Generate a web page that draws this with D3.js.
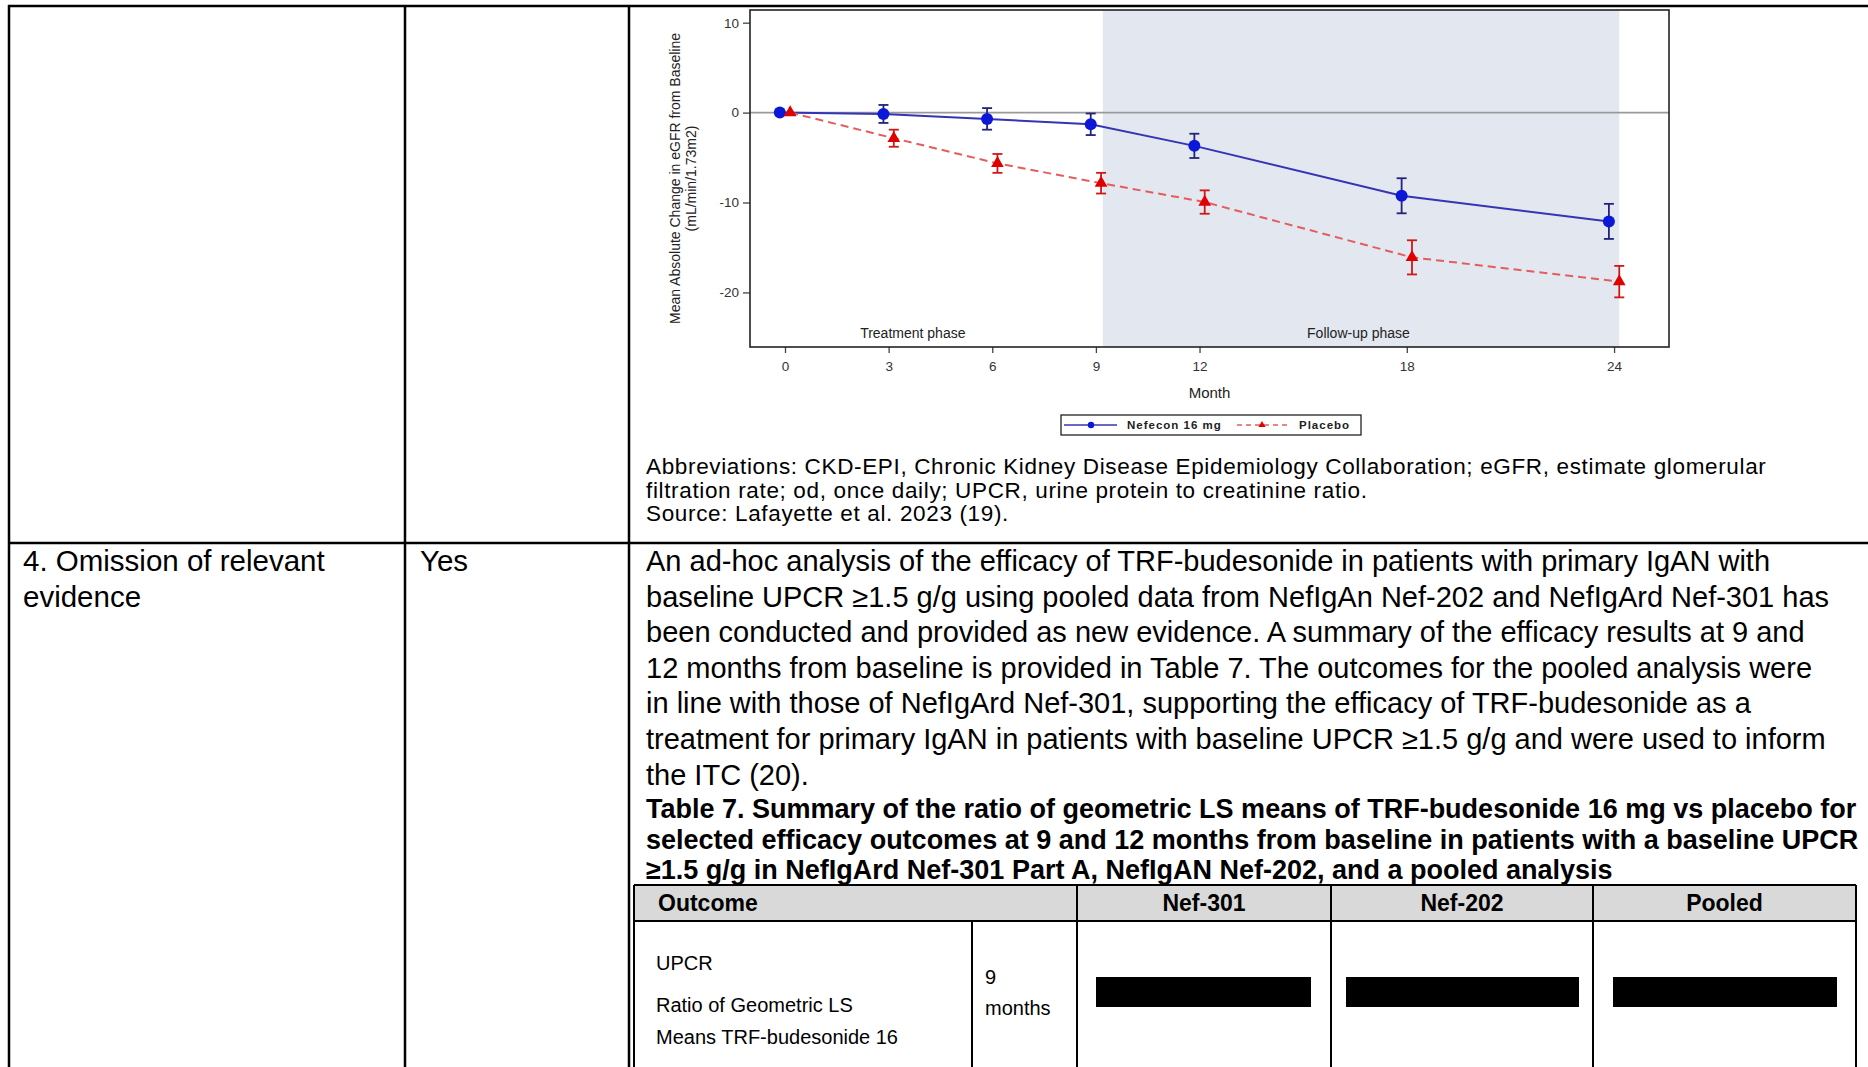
<!DOCTYPE html>
<html>
<head>
<meta charset="utf-8">
<script src="https://cdnjs.cloudflare.com/ajax/libs/d3/7.8.5/d3.min.js"></script>
<style>
  body { margin: 0; background: #fff; }
  svg { display: block; font-family: "Liberation Sans", Arial, sans-serif; }
</style>
</head>
<body>
<div id="page"></div>
<script>
// chart values
var months = [0, 3, 6, 9, 12, 18, 24];
var nefeconMean = [0, -0.15, -0.7, -1.3, -3.7, -9.25, -12.1];
var nefeconErr = [0, 1.0, 1.2, 1.2, 1.35, 1.95, 1.95];
var placeboMean = [0, -2.85, -5.65, -7.85, -9.95, -16.1, -18.8];
var placeboErr = [0, 0.95, 1.05, 1.15, 1.3, 1.9, 1.75];
var yTicks = [10, 0, -10, -20];
var followUpRange = [9.2, 24.15];
var seriesNames = ["Nefecon 16 mg", "Placebo"];

var bodyLines = [
  "An ad-hoc analysis of the efficacy of TRF-budesonide in patients with primary IgAN with",
  "baseline UPCR \u22651.5 g/g using pooled data from NefIgAn Nef-202 and NefIgArd Nef-301 has",
  "been conducted and provided as new evidence. A summary of the efficacy results at 9 and",
  "12 months from baseline is provided in Table 7. The outcomes for the pooled analysis were",
  "in line with those of NefIgArd Nef-301, supporting the efficacy of TRF-budesonide as a",
  "treatment for primary IgAN in patients with baseline UPCR \u22651.5 g/g and were used to inform",
  "the ITC (20)."
];
var captionLines = [
  "Table 7. Summary of the ratio of geometric LS means of TRF-budesonide 16 mg vs placebo for",
  "selected efficacy outcomes at 9 and 12 months from baseline in patients with a baseline UPCR",
  "\u22651.5 g/g in NefIgArd Nef-301 Part A, NefIgAN Nef-202, and a pooled analysis"
];
var noteLines = [
  "Abbreviations: CKD-EPI, Chronic Kidney Disease Epidemiology Collaboration; eGFR, estimate glomerular",
  "filtration rate; od, once daily; UPCR, urine protein to creatinine ratio.",
  "Source: Lafayette et al. 2023 (19)."
];
var tableHeads = ["Nef-301", "Nef-202", "Pooled"];

var W = 1868, H = 1067;

var svg = d3.select("#page").append("svg")
    .attr("width", W)
    .attr("height", H);

svg.append("rect").attr("width", W).attr("height", H).attr("fill", "#fff");

// ---------- the chart ----------
var frame = { left: 750, right: 1669, top: 10, bottom: 347 };

var x = d3.scaleLinear().domain([-1.013, 25.59]).range([frame.left, frame.right]);
var y = d3.scaleLinear().domain([-26.07, 11.41]).range([frame.bottom, frame.top]);

var chart = svg.append("g");

chart.append("rect")
    .attr("x", x(followUpRange[0]))
    .attr("y", frame.top)
    .attr("width", x(followUpRange[1]) - x(followUpRange[0]))
    .attr("height", frame.bottom - frame.top)
    .attr("fill", "#e3e7ef");

chart.append("line")
    .attr("x1", frame.left).attr("x2", frame.right)
    .attr("y1", y(0)).attr("y2", y(0))
    .attr("stroke", "#9a9a9a").attr("stroke-width", 1.6);

var xAxis = chart.append("g")
    .attr("transform", "translate(0," + frame.bottom + ")")
    .call(d3.axisBottom(x).tickValues(months).tickSize(6).tickPadding(8));
var yAxis = chart.append("g")
    .attr("transform", "translate(" + frame.left + ",0)")
    .call(d3.axisLeft(y).tickValues(yTicks).tickSize(7).tickPadding(4)
        .tickFormat(function(d) { return String(d); }));

[xAxis, yAxis].forEach(function(a) {
  a.select(".domain").remove();
  a.selectAll(".tick line").attr("stroke", "#444").attr("stroke-width", 1.3);
  a.selectAll(".tick text")
      .attr("fill", "#333")
      .style("font-size", "13.5px")
      .style("font-family", "Liberation Sans, Arial, sans-serif");
});

chart.append("rect")
    .attr("x", frame.left).attr("y", frame.top)
    .attr("width", frame.right - frame.left)
    .attr("height", frame.bottom - frame.top)
    .attr("fill", "none")
    .attr("stroke", "#222")
    .attr("stroke-width", 1.6);

var yTitle = chart.append("text")
    .attr("transform", "translate(675," + ((frame.top + frame.bottom) / 2) + ") rotate(-90)")
    .attr("text-anchor", "middle")
    .attr("fill", "#222")
    .style("font-size", "14px");
yTitle.append("tspan").attr("x", 0).attr("dy", "0.35em").text("Mean Absolute Change in eGFR from Baseline");
yTitle.append("tspan").attr("x", 0).attr("dy", "16px").text("(mL/min/1.73m2)");

chart.append("text")
    .attr("x", (frame.left + frame.right) / 2)
    .attr("y", 398)
    .attr("text-anchor", "middle")
    .attr("fill", "#222")
    .style("font-size", "15px")
    .text("Month");

chart.append("text")
    .attr("x", x(3.7)).attr("y", 338)
    .attr("text-anchor", "middle").attr("fill", "#222")
    .style("font-size", "14px")
    .text("Treatment phase");
chart.append("text")
    .attr("x", x(16.6)).attr("y", 338)
    .attr("text-anchor", "middle").attr("fill", "#222")
    .style("font-size", "14px")
    .text("Follow-up phase");

var series = [
  { name: seriesNames[0], mean: nefeconMean, err: nefeconErr, shift: -0.15,
    line: "#3434b4", bar: "#23237a", mark: "#0c18d8", dash: null, shape: "circle" },
  { name: seriesNames[1], mean: placeboMean, err: placeboErr, shift: 0.15,
    line: "#e35d5d", bar: "#d01818", mark: "#e00000", dash: "8,5", shape: "triangle" }
];

series.forEach(function(s) {
  var pts = months.map(function(m, i) {
    return { m: m + s.shift, v: s.mean[i], e: s.err[i] };
  });

  var line = d3.line()
      .x(function(d) { return x(d.m); })
      .y(function(d) { return y(d.v); });

  chart.append("path")
      .datum(pts)
      .attr("d", line)
      .attr("fill", "none")
      .attr("stroke", s.line)
      .attr("stroke-width", 2)
      .attr("stroke-dasharray", s.dash);

  var bars = chart.append("g").selectAll("g")
      .data(pts.filter(function(d) { return d.e > 0; }))
      .enter().append("g")
      .attr("stroke", s.bar)
      .attr("stroke-width", 1.8);
  bars.append("line")
      .attr("x1", function(d) { return x(d.m); })
      .attr("x2", function(d) { return x(d.m); })
      .attr("y1", function(d) { return y(d.v + d.e); })
      .attr("y2", function(d) { return y(d.v - d.e); });
  [1, -1].forEach(function(sign) {
    bars.append("line")
        .attr("x1", function(d) { return x(d.m) - 5; })
        .attr("x2", function(d) { return x(d.m) + 5; })
        .attr("y1", function(d) { return y(d.v + sign * d.e); })
        .attr("y2", function(d) { return y(d.v + sign * d.e); });
  });

  if (s.shape == "circle") {
    chart.append("g").selectAll("circle")
        .data(pts).enter().append("circle")
        .attr("cx", function(d) { return x(d.m); })
        .attr("cy", function(d) { return y(d.v); })
        .attr("r", 6)
        .attr("fill", s.mark);
  } else {
    chart.append("g").selectAll("path")
        .data(pts).enter().append("path")
        .attr("d", d3.symbol().type(d3.symbolTriangle).size(70))
        .attr("transform", function(d) { return "translate(" + x(d.m) + "," + y(d.v) + ")"; })
        .attr("fill", s.mark);
  }
});

// legend
var legend = chart.append("g").attr("transform", "translate(1061,415)");
legend.append("rect")
    .attr("width", 300).attr("height", 20)
    .attr("fill", "#fff").attr("stroke", "#222").attr("stroke-width", 1.3);
legend.append("line").attr("x1", 3).attr("x2", 56).attr("y1", 10).attr("y2", 10)
    .attr("stroke", series[0].line).attr("stroke-width", 1.6);
legend.append("circle").attr("cx", 30).attr("cy", 10).attr("r", 3.2).attr("fill", series[0].mark);
legend.append("line").attr("x1", 176).attr("x2", 226).attr("y1", 10).attr("y2", 10)
    .attr("stroke", series[1].line).attr("stroke-width", 1.6).attr("stroke-dasharray", "5,4");
legend.append("path").attr("d", d3.symbol().type(d3.symbolTriangle).size(22))
    .attr("transform", "translate(201,10)").attr("fill", series[1].mark);
legend.selectAll("text.lg")
    .data(seriesNames).enter().append("text")
    .attr("x", function(d, i) { return i == 0 ? 66 : 238; })
    .attr("y", 14)
    .attr("fill", "#222")
    .style("font-size", "11.5px")
    .style("font-weight", "bold")
    .style("letter-spacing", "1px")
    .text(function(d) { return d; });

// ---------- the surrounding document table ----------
var t7 = { left: 634, right: 1856, top: 885, head: 921, cols: [1077, 1331, 1593], sub: 972 };
svg.append("rect")
    .attr("x", t7.left).attr("y", t7.top)
    .attr("width", t7.right - t7.left).attr("height", t7.head - t7.top)
    .attr("fill", "#d9d9d9");

var grid = svg.append("g").attr("stroke", "#000").attr("stroke-width", 2.5);
grid.append("line").attr("x1", 8).attr("x2", W).attr("y1", 6).attr("y2", 6);
grid.append("line").attr("x1", 9).attr("x2", 9).attr("y1", 5).attr("y2", H);
grid.append("line").attr("x1", 405).attr("x2", 405).attr("y1", 5).attr("y2", H);
grid.append("line").attr("x1", 629).attr("x2", 629).attr("y1", 5).attr("y2", H);
grid.append("line").attr("x1", 8).attr("x2", W).attr("y1", 543).attr("y2", 543);

var t7g = svg.append("g").attr("stroke", "#000").attr("stroke-width", 2);
t7g.append("line").attr("x1", t7.left).attr("x2", t7.right).attr("y1", t7.top).attr("y2", t7.top);
t7g.append("line").attr("x1", t7.left).attr("x2", t7.right).attr("y1", t7.head).attr("y2", t7.head);
t7g.append("line").attr("x1", t7.left).attr("x2", t7.left).attr("y1", t7.top).attr("y2", H);
t7g.append("line").attr("x1", t7.right).attr("x2", t7.right).attr("y1", t7.top).attr("y2", H);
t7.cols.forEach(function(c) {
  t7g.append("line").attr("x1", c).attr("x2", c).attr("y1", t7.top).attr("y2", H);
});
t7g.append("line").attr("x1", t7.sub).attr("x2", t7.sub).attr("y1", t7.head).attr("y2", H);

var textG = svg.append("g").attr("fill", "#000");

noteLines.forEach(function(t, i) {
  textG.append("text")
      .attr("x", 646).attr("y", 474 + i * 23.5)
      .style("font-size", "22.5px")
      .style("letter-spacing", "0.65px")
      .text(t);
});

textG.append("text").attr("x", 23).attr("y", 571).style("font-size", "29.5px").text("4. Omission of relevant");
textG.append("text").attr("x", 23).attr("y", 607).style("font-size", "29.5px").text("evidence");
textG.append("text").attr("x", 420).attr("y", 571).style("font-size", "29.5px").text("Yes");

bodyLines.forEach(function(t, i) {
  textG.append("text")
      .attr("x", 646).attr("y", 571 + i * 35.6)
      .style("font-size", "29px")
      .text(t);
});

captionLines.forEach(function(t, i) {
  textG.append("text")
      .attr("x", 646).attr("y", 818 + i * 30.5)
      .style("font-size", "27px")
      .style("font-weight", "bold")
      .text(t);
});

// Table 7 text
textG.append("text").attr("x", 658).attr("y", 911)
    .style("font-size", "23px").style("font-weight", "bold").text("Outcome");
var colEdges = [t7.cols[0], t7.cols[1], t7.cols[2], t7.right];
tableHeads.forEach(function(h, i) {
  textG.append("text")
      .attr("x", (colEdges[i] + colEdges[i + 1]) / 2).attr("y", 911)
      .attr("text-anchor", "middle")
      .style("font-size", "23px").style("font-weight", "bold").text(h);
});

["UPCR", "Ratio of Geometric LS", "Means TRF-budesonide 16"].forEach(function(t, i) {
  textG.append("text").attr("x", 656).attr("y", [970, 1012, 1044][i])
      .style("font-size", "20px").text(t);
});
textG.append("text").attr("x", 985).attr("y", 984).style("font-size", "20px").text("9");
textG.append("text").attr("x", 985).attr("y", 1015).style("font-size", "20px").text("months");

// redacted cells
[[1096, 1311], [1346, 1579], [1613, 1837]].forEach(function(b) {
  svg.append("rect")
      .attr("x", b[0]).attr("y", 977)
      .attr("width", b[1] - b[0]).attr("height", 30)
      .attr("fill", "#000");
});
</script>
</body>
</html>
